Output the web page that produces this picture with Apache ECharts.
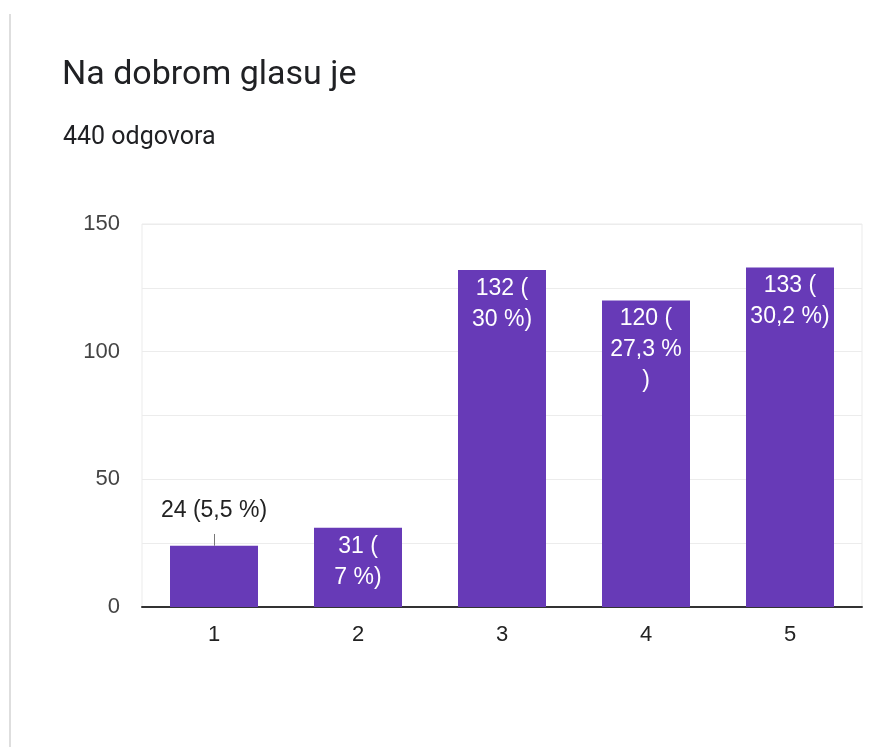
<!DOCTYPE html>
<html>
<head>
<meta charset="utf-8">
<style>
html,body{margin:0;padding:0;background:#fff;}
#chart{width:876px;height:747px;}
</style>
<script src="https://cdn.jsdelivr.net/npm/echarts@6/dist/echarts.min.js"></script>
</head>
<body>
<div id="chart"></div>
<script>
// Data
const categories = ['1', '2', '3', '4', '5'];
const counts = [24, 31, 132, 120, 133];
const barLabels = ['24 (5,5 %)', '31 (\n7 %)', '132 (\n30 %)', '120 (\n27,3 %\n)', '133 (\n30,2 %)'];
const yTicks = [0, 50, 100, 150];
const titleText = 'Na dobrom glasu je';
const subtitleText = '440 odgovora';

const chart = echarts.init(document.getElementById('chart'), null, {renderer: 'canvas'});

const seriesData = counts.map(function (v, i) {
  if (i === 0) {
    return {
      value: v,
      label: {
        position: 'top',
        distance: 22,
        color: '#222',
        lineHeight: 26
      }
    };
  }
  return {value: v};
});

const option = {
  animation: false,
  backgroundColor: '#fff',
  title: [
    {
      text: titleText,
      left: 57,
      top: 53,
      textStyle: {fontFamily: 'Roboto', fontSize: 34, fontWeight: 'normal', color: '#202124'}
    },
    {
      text: subtitleText,
      left: 58,
      top: 120,
      textStyle: {fontFamily: 'Roboto', fontSize: 25, fontWeight: 'normal', color: '#202124'}
    }
  ],
  graphic: [
    {
      type: 'line',
      shape: {x1: 10, y1: 14, x2: 10, y2: 747},
      style: {stroke: '#dedede', lineWidth: 2}
    }
  ],
  grid: {
    left: 142, right: 14, top: 224, bottom: 140,
    show: true, borderColor: '#ebebeb', borderWidth: 1, backgroundColor: 'transparent'
  },
  xAxis: {
    type: 'category',
    data: categories,
    axisTick: {show: false},
    axisLine: {lineStyle: {color: '#333', width: 2}},
    axisLabel: {fontFamily: 'Liberation Sans', fontSize: 22, color: '#222', margin: 17}
  },
  yAxis: {
    type: 'value',
    min: 0, max: 150, interval: 25,
    axisLine: {show: false},
    axisTick: {show: false},
    splitLine: {lineStyle: {color: '#ececec', width: 1}},
    axisLabel: {
      fontFamily: 'Liberation Sans', fontSize: 22, color: '#444', margin: 22,
      formatter: function (v) { return yTicks.indexOf(v) >= 0 ? String(v) : ''; }
    }
  },
  series: [
    {
      type: 'bar',
      data: seriesData,
      barWidth: 88,
      itemStyle: {color: '#673ab7'},
      label: {
        show: true,
        position: 'insideTop',
        distance: 3,
        color: '#fff',
        fontFamily: 'Liberation Sans',
        fontSize: 23,
        lineHeight: 31,
        align: 'center',
        formatter: function (p) { return barLabels[p.dataIndex]; }
      },
      markLine: {
        silent: true,
        symbol: 'none',
        label: {show: false},
        lineStyle: {color: '#777', width: 1, type: 'solid'},
        data: [[{coord: [0, counts[0]]}, {coord: [0, counts[0] + 4.6]}]]
      }
    }
  ]
};
chart.setOption(option);
</script>
</body>
</html>
